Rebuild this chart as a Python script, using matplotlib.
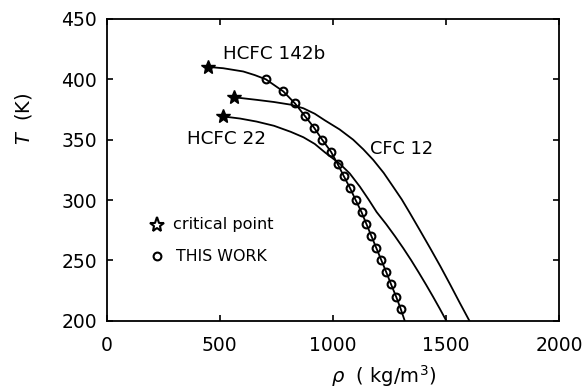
import matplotlib
matplotlib.use("Agg")
import matplotlib.pyplot as plt

# ---- data ----
# HCFC 142b (critical point + saturated liquid curve)
rho_142b = [446, 515, 604, 655, 704, 781, 833, 875, 917, 953, 992, 1021, 1048, 1076,
            1101, 1127, 1149, 1171, 1193, 1215, 1237, 1258, 1280, 1300, 1318]
T_142b = [410.3, 409.2, 406.5, 403.5, 400, 390, 380, 370, 360, 350, 340, 330, 320, 310,
          300, 290, 280, 270, 260, 250, 240, 230, 220, 210, 200]

# CFC 12
rho_cfc12 = [565, 663, 740, 814, 870, 920, 965, 1030, 1090, 1135, 1179, 1225, 1267,
             1305, 1340, 1385, 1431, 1476, 1519, 1561, 1604]
T_cfc12 = [385.1, 383, 381.2, 379, 376, 371.5, 366, 358.5, 350, 342, 333.2, 322.5, 311,
           300.5, 289.5, 275, 260, 245, 230, 215, 200]

# HCFC 22
rho_hcfc22 = [513, 590, 663, 740, 814, 870, 920, 965, 1000, 1031, 1075, 1120, 1158,
              1194, 1236, 1275, 1312, 1347, 1380, 1412, 1443, 1473, 1502]
T_hcfc22 = [369.3, 367.5, 365, 361.5, 356.5, 352, 346.5, 339.5, 334.5, 330, 322, 311,
            300.5, 290, 280, 270, 260, 250, 240, 230, 220, 210, 200]

# THIS WORK measurements (HCFC 142b)
rho_work = [704, 781, 833, 875, 917, 953, 992, 1021, 1048, 1076, 1101, 1127, 1149,
            1171, 1193, 1215, 1237, 1258, 1280, 1300]
T_work = [400, 390, 380, 370, 360, 350, 340, 330, 320, 310, 300, 290, 280, 270, 260,
          250, 240, 230, 220, 210]

# critical points
rho_crit = [446, 565, 513]
T_crit = [410.3, 385.1, 369.3]

x_ticks = [0, 500, 1000, 1500, 2000]
y_ticks = [200, 250, 300, 350, 400, 450]

plt.rcParams['font.family'] = ['DejaVu Sans']

fig = plt.figure(figsize=(5.84, 3.89), dpi=100)
ax = fig.add_axes([0.1827, 0.1756, 0.7743, 0.7756])

lw = 1.3
ax.plot(rho_142b, T_142b, color='black', lw=lw)
ax.plot(rho_cfc12, T_cfc12, color='black', lw=lw)
ax.plot(rho_hcfc22, T_hcfc22, color='black', lw=lw)
ax.plot(rho_work, T_work, linestyle='none', marker='o', ms=5.6, mfc='none',
        mec='black', mew=1.5)
ax.plot(rho_crit, T_crit, linestyle='none', marker='*', ms=10.5, color='black')

ax.set_xlim(0, 2000)
ax.set_ylim(200, 450)
ax.set_xticks(x_ticks)
ax.set_yticks(y_ticks)
ax.tick_params(direction='in', length=4, width=1.2, top=True, right=True,
               labelsize=13.5)
ax.tick_params(axis='x', pad=11)
ax.tick_params(axis='y', pad=7)
for s in ax.spines.values():
    s.set_linewidth(1.3)

# curve labels
ax.text(514, 421, 'HCFC 142b', fontsize=13.2, va='center', ha='left')
ax.text(354, 350.6, 'HCFC 22', fontsize=13.2, va='center', ha='left')
ax.text(1164, 342.3, 'CFC 12', fontsize=12.8, va='center', ha='left')

# legend (drawn by hand like the original)
ax.plot([222], [279.3], linestyle='none', marker='*', ms=11, mfc='white',
        mec='black', mew=1.5)
ax.text(293, 279.3, 'critical point', fontsize=11.6, va='center', ha='left')
ax.plot([221], [253.6], linestyle='none', marker='o', ms=5.6, mfc='none',
        mec='black', mew=1.5)
ax.text(305, 253.6, 'THIS WORK', fontsize=11.4, va='center', ha='left')

# axis labels
ax.text(0.497, -0.205, r'$\rho$  ( kg/m$^3$)', transform=ax.transAxes,
        fontsize=14, ha='left', va='baseline')
ax.text(-0.185, 0.67, r'$T$  (K)', transform=ax.transAxes, rotation=90,
        fontsize=14, ha='center', va='center')

fig.savefig('out.png', dpi=100)
